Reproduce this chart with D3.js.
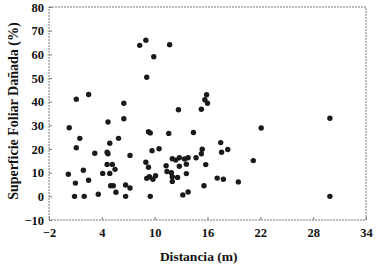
<!DOCTYPE html>
<html>
<head>
<meta charset="utf-8">
<script src="https://cdn.jsdelivr.net/npm/d3@7"></script>
<style>
  body { margin: 0; background: #fff; }
  text { font-family: "Liberation Serif", "DejaVu Serif", serif; font-weight: bold; fill: #111; }
</style>
</head>
<body>
<svg id="chart" width="387" height="264"></svg>
<script>
// Distancia (m) vs Superficie Foliar Dañada (%)
const distancia = [
  0.3, 1.1, 2.5, 1.5, 1.1, 3.2, 0.2, 1.9, 1.0, 2.5, 0.9, 2.0, 3.6,
  6.5, 4.7, 6.5, 5.9, 4.9, 4.6, 4.7, 4.6, 5.2, 4.1, 4.9, 5.5, 5.0, 5.3, 5.6, 6.7, 6.7, 7.2, 7.2,
  9.3, 9.5, 11.6, 9.7, 10.5, 9.0, 9.3, 11.3, 11.4, 9.1, 9.4, 9.8, 10.1, 9.5,
  8.3, 9.0, 11.7, 9.9, 9.1,
  15.9, 15.7, 16.0, 12.7, 15.3, 22.1, 14.4, 17.5, 17.6, 18.3, 15.4, 15.3, 14.7,
  13.8, 13.4, 12.8, 12.4, 12.0, 12.8, 13.6, 13.6, 15.8, 21.2, 11.9, 12.0, 12.6, 12.0,
  17.1, 17.8, 19.5, 15.6, 13.8, 13.2, 29.9, 29.9
];
const superficie = [
  29, 41, 43, 24.5, 20.5, 18.2, 9.3, 11, 5.6, 6.8, 0, 0, 0.9,
  39.3, 31.4, 32.8, 24.5, 22.4, 18.6, 18.0, 13.5, 13.5, 9.7, 9.7, 11.4, 4.5, 4.5, 1.7, 4.8, 0, 17.3, 3.5,
  27.3, 26.8, 26.6, 19.3, 20.1, 14.4, 12.3, 12.9, 10.5, 7.6, 8.3, 7.2, 8.7, 0,
  63.8, 66, 64.1, 59, 50.3,
  42.9, 40.8, 39.3, 36.6, 36.8, 28.9, 27.0, 22.7, 18.6, 19.8, 19.9, 18.0, 16.3,
  16.3, 15.8, 16.3, 15.3, 15.9, 12.7, 13.6, 9.6, 13.4, 15.1, 10.0, 8.3, 8.0, 6.3,
  7.7, 7.2, 6.1, 4.5, 1.8, 0.6, 33, 0
];
const xTicks = [-2, 4, 10, 16, 22, 28, 34];
const yTicks = [-10, 0, 10, 20, 30, 40, 50, 60, 70, 80];

const svg = d3.select('#chart');
const margin = { top: 7, right: 21, bottom: 44, left: 49 };
const width = 387, height = 264;
const plotWidth = width - margin.left - margin.right;
const plotHeight = height - margin.top - margin.bottom;

const g = svg.append('g')
    .attr('transform', `translate(${margin.left}, ${margin.top})`);

const xScale = d3.scaleLinear().domain([-2, 34]).range([0, plotWidth]);
const yScale = d3.scaleLinear().domain([-10, 80]).range([plotHeight, 0]);

// frame
g.append('rect')
    .attr('width', plotWidth)
    .attr('height', plotHeight)
    .attr('fill', 'none')
    .attr('stroke', '#777')
    .attr('stroke-width', 1)
    .attr('stroke-dasharray', '2,1');

// axes
const xAxis = g.append('g')
    .attr('transform', `translate(0, ${plotHeight})`)
    .call(d3.axisBottom(xScale).tickValues(xTicks).tickSize(-3).tickPadding(8));
const yAxis = g.append('g')
    .call(d3.axisLeft(yScale).tickValues(yTicks).tickSize(-3).tickPadding(5));

[xAxis, yAxis].forEach(ax => {
    ax.select('.domain').remove();
    ax.selectAll('line').attr('stroke', '#777');
    ax.selectAll('text')
        .attr('font-family', '"Liberation Serif", serif')
        .attr('font-weight', 'bold')
        .attr('font-size', '12.5px')
        .attr('fill', '#111');
});

// points
g.selectAll('.dot')
    .data(distancia.map((d, i) => ({ x: d, y: superficie[i] })))
    .enter().append('circle')
    .attr('class', 'dot')
    .attr('cx', d => xScale(d.x))
    .attr('cy', d => yScale(d.y))
    .attr('r', 2.7)
    .attr('fill', '#1a1a1a');

// axis titles
svg.append('text')
    .attr('x', margin.left + xScale(15))
    .attr('y', 261)
    .attr('text-anchor', 'middle')
    .attr('font-size', '13.5px')
    .text('Distancia (m)');

svg.append('text')
    .attr('transform', `translate(18, ${margin.top + yScale(36)}) rotate(-90)`)
    .attr('text-anchor', 'middle')
    .attr('font-size', '14px')
    .text('Superficie Foliar Dañada (%)');
</script>
</body>
</html>
